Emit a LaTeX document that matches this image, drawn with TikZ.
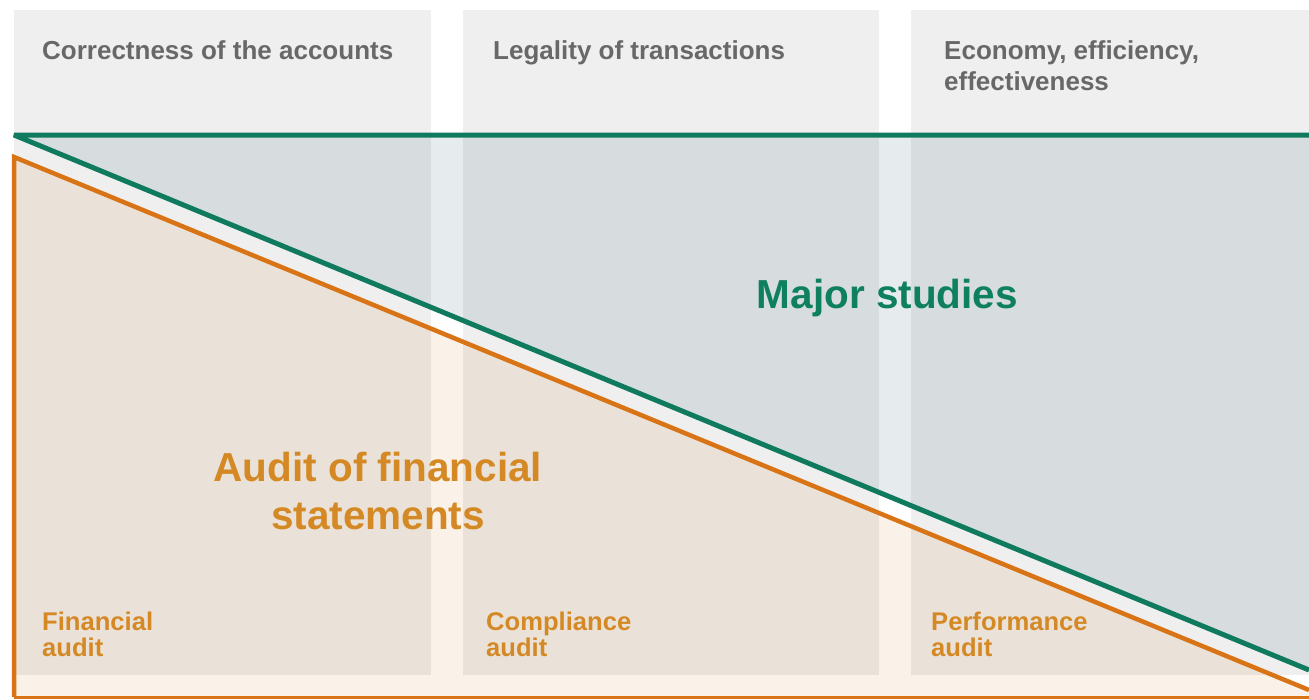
\documentclass[tikz,border=0pt]{standalone}
\usepackage{fontspec}
\setmainfont{Liberation Sans}
\usepackage{tikz}
\usepackage{xcolor}

\definecolor{panelgrey}{RGB}{239,239,239}
\definecolor{headgrey}{RGB}{104,104,104}
\definecolor{studygreen}{RGB}{16,122,94}
\definecolor{studyfill}{RGB}{230,236,238}
\definecolor{titlegreen}{RGB}{14,128,96}
\definecolor{auditorange}{RGB}{217,116,22}
\definecolor{auditfill}{RGB}{250,242,232}
\definecolor{auditgold}{RGB}{212,137,36}

\begin{document}
\begin{tikzpicture}[x=1pt,y=-1pt,
  panel/.style={fill=panelgrey,draw=none},
  head/.style={anchor=base west,inner sep=0,align=left,text=headgrey,font=\bfseries\fontsize{26}{31.5}\selectfont},
  kind/.style={anchor=base west,inner sep=0,align=left,text=auditgold,font=\bfseries\fontsize{25.6}{26}\selectfont},
  big/.style={anchor=base,inner sep=0,align=center,font=\bfseries\fontsize{40.5}{48}\selectfont}]
\useasboundingbox (0,0) rectangle (1309,699);
% the three columns
\fill[panel] (14,10) rectangle (431,675);
\fill[panel] (463,10) rectangle (879,675);
\fill[panel] (911,10) rectangle (1309,675);
\coordinate (g0) at (14,135);
\coordinate (g1) at (1309,135);
\coordinate (g2) at (1309,670);
\coordinate (o0) at (14,157);
\coordinate (o1) at (14,697);
\coordinate (o2) at (1309,697);
\coordinate (o3) at (1309,690);
\begin{scope}[blend mode=multiply]
\fill[auditfill] (o0) -- (o1) -- (o2) -- (o3) -- cycle;
\fill[studyfill] (g0) -- (g1) -- (g2) -- cycle;
\end{scope}
\draw[studygreen,line width=5pt,line join=bevel] (g1) -- (g0) -- (g2);
\draw[auditorange,line width=4.5pt] (o3) -- (o0) -- (o1);
\draw[auditorange,line width=3pt] (o1) -- (o2);
% column titles
\node[head] (h1) at (42,59) {Correctness of the accounts};
\node[head] (h2) at (493,59) {Legality of transactions};
\node[head] (h3) at (944,90.5) {Economy, efficiency,\\effectiveness};
% the two areas
\node[big,text=titlegreen] (ms) at (887.5,308) {Major studies};
\node[big,text=auditgold] (afs) at (378,529) {Audit of financial\\statements};
% kinds of audit
\node[kind] (k1) at (42,656) {Financial\\audit};
\node[kind] (k2) at (486,656) {Compliance\\audit};
\node[kind] (k3) at (931,656) {Performance\\audit};
\end{tikzpicture}
\end{document}
